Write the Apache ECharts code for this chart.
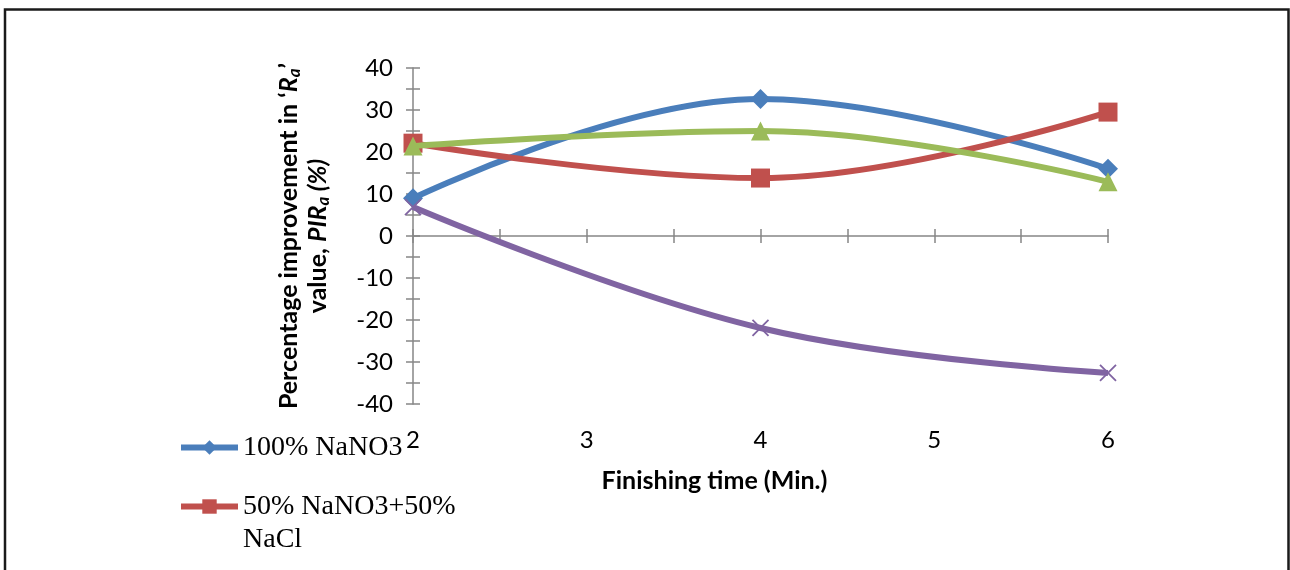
<!DOCTYPE html>
<html lang="en">
<head>
    <meta charset="UTF-8">
    <title>PIRa vs finishing time</title>
    <style>
      html, body { margin: 0; padding: 0; background: #fff; }
      #chart { width: 1290px; height: 570px; }
    </style>
</head>
<body>
  <div id="chart"></div>

  <script type="text/javascript" src="https://fastly.jsdelivr.net/npm/echarts@6/dist/echarts.min.js"></script>

  <script type="text/javascript">
    // data
    var times = [2, 4, 6];
    var nano3 = [9.0, 32.6, 16.0];
    var halfHalf = [22.1, 13.8, 29.5];
    var seriesC = [21.4, 25.0, 12.9];
    var seriesD = [6.9, -21.9, -32.6];
    var names = ['100% NaNO3', '50% NaNO3+50% NaCl', '100% NaCl', '25% NaNO3+75% NaCl'];
    var colors = ['#4A7EBB', '#C0504D', '#9BBB59', '#8064A2'];

    function pairs(vals) {
      return vals.map(function (v, i) { return [times[i], v]; });
    }

    var dom = document.getElementById('chart');
    var myChart = echarts.init(dom, null, { renderer: 'canvas' });

    var axisGray = '#868686';
    var tickFont = { fontFamily: 'Lato', fontSize: 24, color: '#000' };
    var tickLine = { color: axisGray, width: 1.5 };

    var xBase = {
      type: 'value', min: 2, max: 6, interval: 1, position: 'bottom',
      splitLine: { show: false },
      axisLine: { show: true, lineStyle: tickLine },
      minorTick: { show: true, splitNumber: 2, length: 7, lineStyle: tickLine },
      minorSplitLine: { show: false }
    };
    var yBase = {
      type: 'value', min: -40, max: 40, interval: 10, position: 'left',
      splitLine: { show: false },
      axisLine: { show: true, lineStyle: tickLine },
      minorTick: { show: true, splitNumber: 2, length: 7, lineStyle: tickLine },
      minorSplitLine: { show: false }
    };

    var xMain = Object.assign({}, xBase, {
      axisTick: { show: true, length: 7, lineStyle: tickLine },
      axisLabel: Object.assign({ margin: 24 }, tickFont),
      name: 'Finishing time (Min.)',
      nameLocation: 'middle',
      nameGap: 64,
      nameTextStyle: {
        fontFamily: 'Lato', fontWeight: 'bold', fontSize: 25, color: '#000',
        padding: [0, 92, 0, 0]
      }
    });
    var xInner = Object.assign({}, xBase, {
      axisLine: { show: false },
      axisTick: { show: true, inside: true, length: 7, lineStyle: tickLine },
      axisLabel: { show: false }
    });

    var b = { fontFamily: 'Lato', fontWeight: 'bold', fontSize: 25, color: '#000', lineHeight: 29 };
    var bi = Object.assign({}, b, { fontStyle: 'italic' });
    var sub = Object.assign({}, bi, { fontSize: 17, verticalAlign: 'bottom', padding: [9, 0, 0, 0] });

    var yMain = Object.assign({}, yBase, {
      axisTick: { show: true, length: 7, lineStyle: tickLine },
      axisLabel: Object.assign({ margin: 20 }, tickFont),
      name: '{b|Percentage improvement in \u2018}{bi|R}{s|a}{b|\u2019}\n{b|value, }{bi|PIR}{s|a}{bi| (%)}',
      nameLocation: 'middle',
      nameRotate: 90,
      nameGap: 81,
      nameTextStyle: { rich: { b: b, bi: bi, s: sub }, align: 'center', lineHeight: 29 }
    });
    var yInner = Object.assign({}, yBase, {
      axisLine: { show: false },
      axisTick: { show: true, inside: true, length: 7, lineStyle: tickLine },
      axisLabel: { show: false }
    });

    var legendText = { fontFamily: 'Liberation Serif', fontSize: 28, color: '#000', lineHeight: 33 };

    function line(idx, vals, symbol, size, extra) {
      return Object.assign({
        name: names[idx],
        type: 'line',
        smooth: 0.4,
        data: pairs(vals),
        symbol: symbol,
        symbolSize: size,
        lineStyle: { color: colors[idx], width: 6 },
        itemStyle: { color: colors[idx] },
        z: 3 + idx
      }, extra || {});
    }

    var legendBase = {
      orient: 'vertical', left: 178, padding: 0,
      itemWidth: 57, itemHeight: 18,
      itemStyle: { borderWidth: 0 },
      lineStyle: { width: 6 },
      textStyle: legendText
    };

    var option = {
      animation: false,
      color: colors,
      grid: { left: 413, right: 182, top: 68, bottom: 166, containLabel: false },
      xAxis: [xMain, xInner],
      yAxis: [yMain, yInner],
      legend: [
        Object.assign({}, legendBase, { data: [names[0]], top: 431 }),
        Object.assign({}, legendBase, {
          data: [names[1]], top: 457,
          // blank first line keeps the marker level with the first text line
          formatter: function () { return '\n50% NaNO3+50%\nNaCl'; }
        })
      ],
      graphic: [{
        type: 'rect',
        shape: { x: 5, y: 9.5, width: 1283.5, height: 620 },
        style: { fill: 'none', stroke: '#1a1a1a', lineWidth: 2.5 },
        silent: true
      }],
      series: [
        line(0, nano3, 'diamond', 20),
        line(1, halfHalf, 'rect', 19),
        line(2, seriesC, 'triangle', 19),
        line(3, seriesD, 'path://M0,0 L10,10 M10,0 L0,10', 16, {
          itemStyle: { color: 'none', borderColor: colors[3], borderWidth: 1.8 }
        })
      ]
    };

    myChart.setOption(option);
    window.addEventListener('resize', myChart.resize);
  </script>
</body>
</html>
